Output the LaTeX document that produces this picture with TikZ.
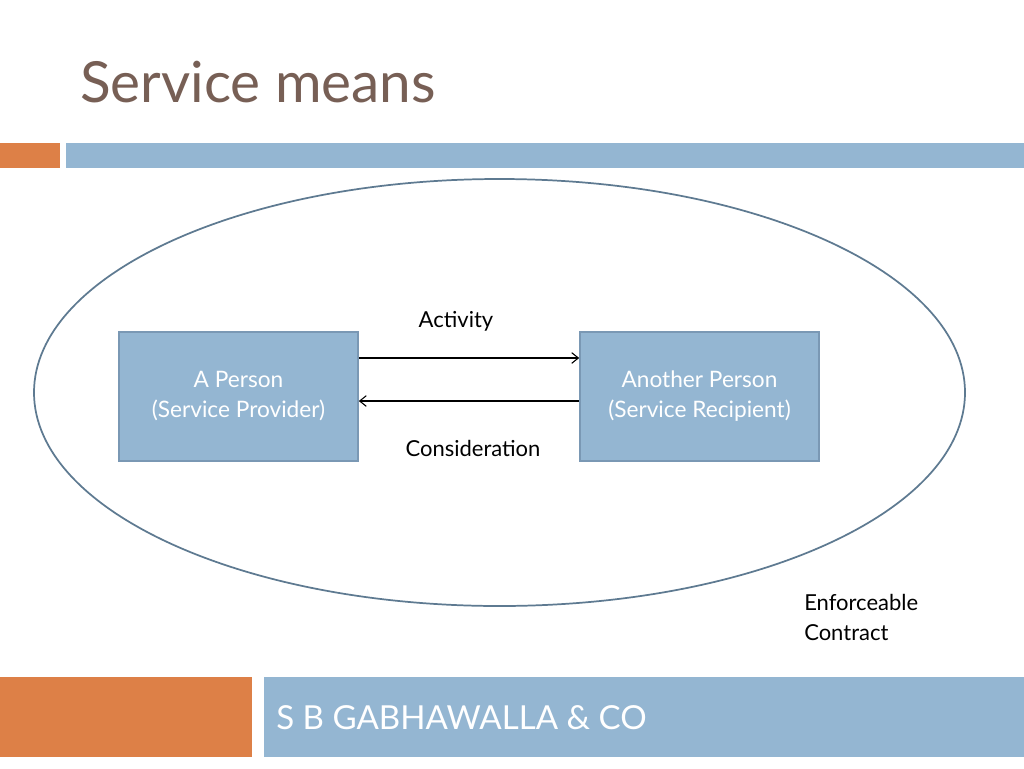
\documentclass[tikz,border=0pt]{standalone}
\usepackage{fontspec}
\setmainfont{Lato}
\usetikzlibrary{arrows.meta}
\definecolor{accorange}{HTML}{DD8047}
\definecolor{accblue}{HTML}{94B6D2}
\definecolor{boxedge}{HTML}{7A98B4}
\definecolor{titlebrown}{HTML}{775F55}
\definecolor{ellline}{HTML}{5E7A91}
\tikzset{
  px/.style={x=0.75pt,y=-0.75pt},
  personbox/.style={draw=boxedge,line width=1.2pt,fill=accblue,minimum width=179.25pt,minimum height=96.75pt,inner sep=0pt,text=white,font=\fontsize{17}{22.5}\selectfont,align=center},
  lbl/.style={font=\fontsize{16.5}{22.5}\selectfont,text=black,inner sep=0pt},
  flow/.style={-{Straight Barb[length=5pt,width=8pt]},line width=0.8pt,black},
}
\begin{document}
\begin{tikzpicture}[px]
\useasboundingbox (0,0) rectangle (1024,768);
\fill[white] (0,0) rectangle (1024,768);
% title
\node[anchor=base west,inner sep=0pt,text=titlebrown,font=\fontsize{42.5}{48}\selectfont] (title) at (80,102) {Service means};
% header bars
\fill[accorange] (0,143) rectangle (60,168);
\fill[accblue] (66,143) rectangle (1024,168);
% ellipse
\draw[ellline,line width=1.3pt] (499.5,392.5) ellipse [x radius=465.5, y radius=213.5];
% boxes
\node[personbox] (prov) at (238.5,396.5) {A Person\\(Service Provider)};
\node[personbox] (recip) at (699.5,396.5) {Another Person\\(Service Recipient)};
% arrows
\draw[flow] (prov.east |- 0,358) -- (recip.west |- 0,358);
\draw[flow] (recip.west |- 0,401) -- (prov.east |- 0,401);
% labels
\node[lbl] (act) at (456,321) {Activity};
\node[lbl] (cons) at (473,448) {Consideration};
\node[lbl,anchor=west,align=left] (enf) at (804,617) {Enforceable\\Contract};
% footer
\fill[accorange] (0,677) rectangle (252,757);
\fill[accblue] (264,677) rectangle (1024,757);
\node[anchor=west,inner sep=0pt,text=white,font=\fontsize{24.8}{28}\selectfont] (firm) at (276,718) {S B GABHAWALLA \& CO};
\end{tikzpicture}
\end{document}
